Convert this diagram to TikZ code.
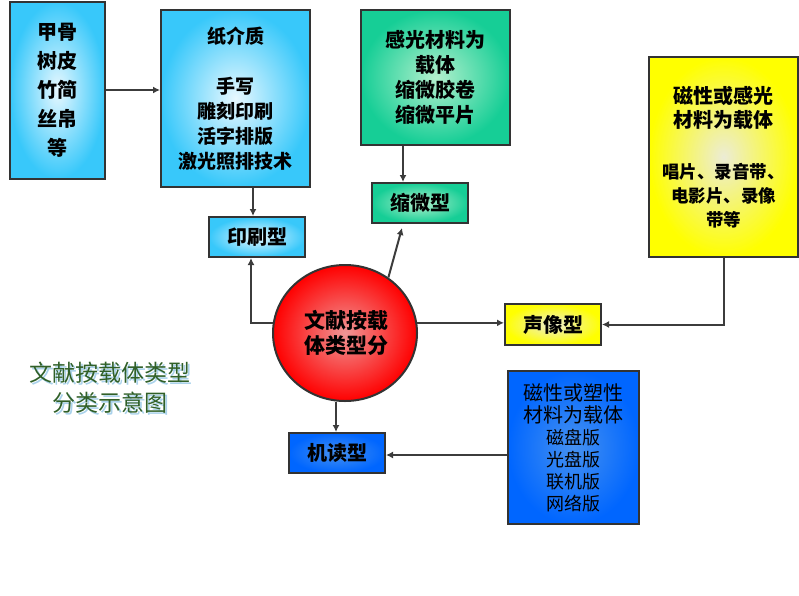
\documentclass[tikz,border=0pt]{standalone}
\usepackage{fontspec}
\setmainfont{Noto Sans CJK SC}
\usetikzlibrary{arrows.meta,shadings,shapes.geometric}
\definecolor{boxline}{RGB}{51,51,51}
\definecolor{lineclr}{RGB}{60,60,60}
\definecolor{cyanout}{RGB}{56,200,250}
\definecolor{cyanin}{RGB}{232,248,255}
\definecolor{greenout}{RGB}{22,206,150}
\definecolor{greenin}{RGB}{180,240,205}
\definecolor{yellowout}{RGB}{255,255,0}
\definecolor{yellowin}{RGB}{236,236,214}
\definecolor{blueout}{RGB}{0,102,255}
\definecolor{bluein}{RGB}{70,145,240}
\definecolor{redout}{RGB}{255,0,0}
\definecolor{redin}{RGB}{240,150,150}
\definecolor{titleclr}{RGB}{48,96,40}
\definecolor{titleshadow}{RGB}{170,210,235}
\tikzset{
  box/.style={draw=boxline, line width=2pt, align=center, inner sep=0pt, text=black,
    font=\bfseries\fontsize{19}{25}\selectfont},
  cyanbox/.style={box, inner color=cyanin, outer color=cyanout},
  greenbox/.style={box, inner color=greenin, outer color=greenout},
  yellowbox/.style={box, inner color=yellowin, outer color=yellowout},
  bluebox/.style={box, inner color=bluein, outer color=blueout},
  arr/.style={draw=lineclr, line width=2pt, -{Latex[length=7pt,width=7pt]}},
}
\begin{document}
\begin{tikzpicture}[x=1pt,y=-1pt]
\useasboundingbox (0,0) rectangle (799,595);

% boxes
\node[cyanbox, minimum width=95pt, minimum height=177pt,
  font=\bfseries\fontsize{20}{29}\selectfont] (b1) at (57.5,90)
  {甲骨\\树皮\\竹简\\丝帛\\等};
\node[cyanbox, minimum width=149pt, minimum height=177pt] (b2) at (235.5,98.5)
  {纸介质\\ \\手写\\雕刻印刷\\活字排版\\激光照排技术};
\node[cyanbox, minimum width=96pt, minimum height=40pt,
  font=\bfseries\fontsize{20}{25}\selectfont] (ys) at (257,237) {印刷型};

\node[greenbox, minimum width=149pt, minimum height=135pt,
  font=\bfseries\fontsize{20}{25}\selectfont] (b3) at (435.5,77.5)
  {感光材料为\\载体\\缩微胶卷\\缩微平片};
\node[greenbox, minimum width=96pt, minimum height=40pt,
  font=\bfseries\fontsize{20}{25}\selectfont] (sw) at (420,203) {缩微型};

\node[yellowbox, minimum width=149pt, minimum height=200pt,
  font=\bfseries\fontsize{20}{24}\selectfont] (b4) at (723.5,157)
  {磁性或感光\\材料为载体\\[27pt]{\fontsize{17.5}{22}\selectfont 唱片、录音带、}\\[0pt]{\fontsize{17.5}{22}\selectfont 电影片、录像}\\[0pt]{\fontsize{17.5}{22}\selectfont 带等}};
\node[yellowbox, minimum width=96pt, minimum height=41pt,
  font=\bfseries\fontsize{20}{25}\selectfont] (sx) at (553,324.5) {声像型};

\node[bluebox, minimum width=131pt, minimum height=153pt,
  font=\fontsize{20}{22}\selectfont] (b5) at (573.5,447.5)
  {磁性或塑性\\材料为载体\\{\fontsize{18}{22}\selectfont 磁盘版}\\{\fontsize{18}{22}\selectfont 光盘版}\\{\fontsize{18}{22}\selectfont 联机版}\\{\fontsize{18}{22}\selectfont 网络版}};
\node[bluebox, minimum width=96pt, minimum height=40pt,
  font=\bfseries\fontsize{20}{25}\selectfont] (jd) at (337,453) {机读型};

% center ellipse
\node[ellipse, draw=boxline, line width=2pt, inner color=redin, outer color=redout,
  minimum width=144pt, minimum height=136pt, inner sep=0pt, align=center,
  font=\bfseries\fontsize{21}{25}\selectfont] (c) at (345,333)
  {\hspace*{2pt}文献按载\\\hspace*{2pt}体类型分};

% title
\node[align=center, text=titleshadow, font=\fontsize{23}{30}\selectfont] (tts) at (111.5,389.5)
  {文献按载体类型\\分类示意图};
\node[align=center, text=titleclr, font=\fontsize{23}{30}\selectfont] (tt) at (110,388)
  {文献按载体类型\\分类示意图};

% connectors
\draw[arr] (b1.east) -- (b1.east -| b2.west);
\draw[arr] ([xshift=-4pt]ys.north |- b2.south) -- ([xshift=-4pt]ys.north);
\draw[arr] ([xshift=-17pt]sw.north |- b3.south) -- ([xshift=-17pt]sw.north);
\draw[arr] (c.52) -- ([xshift=-18pt,yshift=-4pt]sw.south);
\draw[arr] (c.172) -| ([xshift=-6pt]ys.south);
\draw[arr] (c.8) -- (c.8 -| sx.west);
\draw[arr] (b4.south) |- (sx.east);
\draw[arr] ([xshift=-1pt]jd.north |- c.south) -- ([xshift=-1pt]jd.north);
\draw[arr] ([yshift=-2pt]b5.west |- jd.east) -- ([yshift=-2pt]jd.east);
\end{tikzpicture}
\end{document}
